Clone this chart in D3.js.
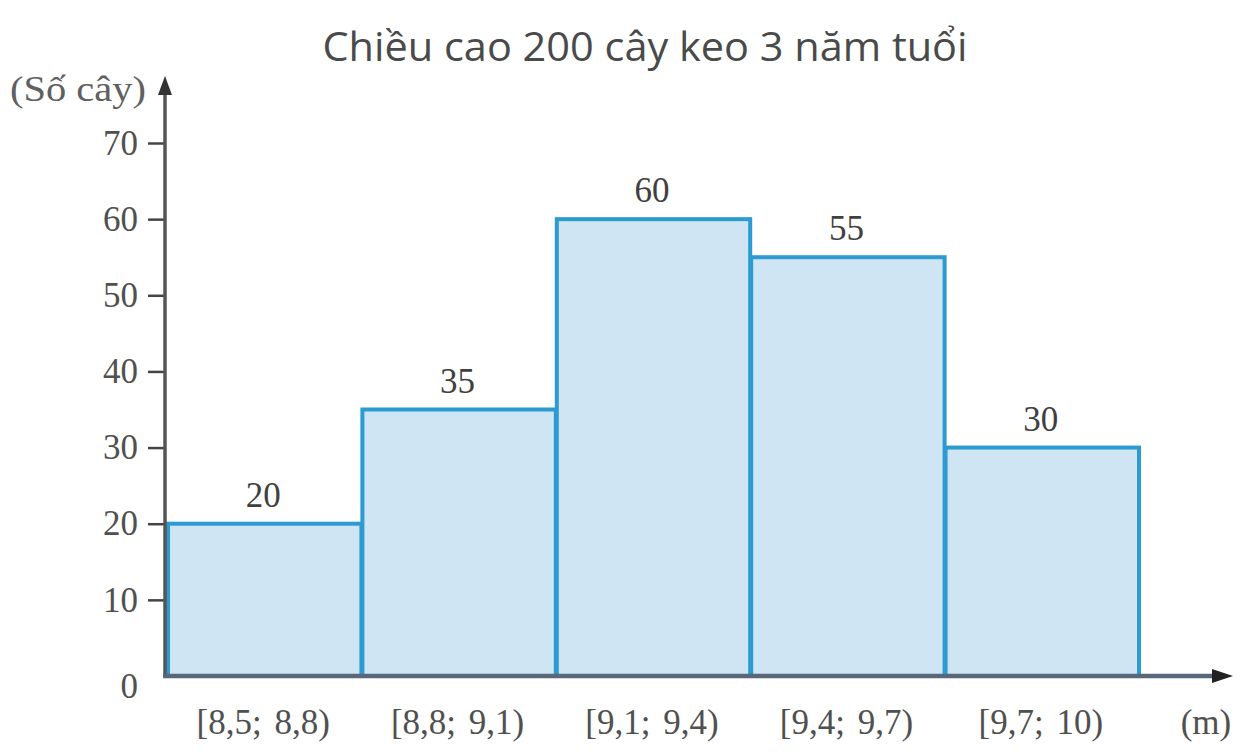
<!DOCTYPE html>
<html><head><meta charset="utf-8">
<script src="https://cdn.jsdelivr.net/npm/d3@7"></script>
<style>body{margin:0;background:#fff}</style>
</head><body><svg id="c" width="1251" height="752"></svg>
<script>
const categories = ["[8,5; 8,8)", "[8,8; 9,1)", "[9,1; 9,4)", "[9,4; 9,7)", "[9,7; 10)"];
const values = [20, 35, 60, 55, 30];
const yTicks = [0, 10, 20, 30, 40, 50, 60, 70];
const title = "Chiều cao 200 cây keo 3 năm tuổi";
const yLabel = "(Số cây)";
const xUnit = "(m)";

const svg = d3.select("#c");
const x0 = 165, y0 = 676;
const x = d3.scaleBand().domain(categories).range([x0 + 1, 1138]).padding(0);
const y = d3.scaleLinear().domain([0, 70]).range([y0, 143]);
const serif = "'Liberation Serif','DejaVu Serif',serif";
const fs = 35;

svg.append("text").attr("x", 645).attr("y", 61).attr("text-anchor", "middle")
  .attr("font-family", "'Open Sans',sans-serif").attr("font-size", 40)
  .attr("textLength", 645).attr("lengthAdjust", "spacingAndGlyphs")
  .attr("fill", "#4a4a4a").text(title);

// bars
svg.append("g").selectAll("rect").data(values).join("rect")
  .attr("x", (d, i) => x(categories[i]) + 2)
  .attr("y", d => y(d))
  .attr("width", x.bandwidth() - 1)
  .attr("height", d => y0 - y(d))
  .attr("fill", "#d0e5f3").attr("stroke", "#2b9bd2").attr("stroke-width", 4);

// value labels
svg.append("g").selectAll("text").data(values).join("text")
  .attr("x", (d, i) => x(categories[i]) + x.bandwidth() / 2)
  .attr("y", d => y(d) - 17)
  .attr("text-anchor", "middle").attr("font-family", serif).attr("font-size", fs)
  .attr("fill", "#404040").text(d => d);

// y axis
const yAxis = d3.axisLeft(y).tickValues(yTicks).tickSize(17).tickPadding(10);
const gy = svg.append("g").attr("transform", `translate(${x0},0)`).call(yAxis);
gy.select(".domain").remove();
gy.selectAll(".tick line").attr("stroke", "#444").attr("stroke-width", 2.5);
gy.selectAll(".tick text").attr("font-family", serif).attr("font-size", fs).attr("fill", "#505050");
gy.selectAll(".tick").filter(d => d === 0).select("line").remove();
gy.selectAll(".tick").filter(d => d === 0).select("text").attr("dy", "0.6em").attr("x", -27);

svg.append("line").attr("x1", x0).attr("x2", x0).attr("y1", y0 + 2).attr("y2", 92)
  .attr("stroke", "#555").attr("stroke-width", 3.5);
svg.append("path").attr("d", `M${x0},76 L${x0 - 7},95 L${x0 + 7},95 Z`).attr("fill", "#333");

// x axis
svg.append("line").attr("x1", x0 - 2).attr("x2", 1215).attr("y1", y0).attr("y2", y0)
  .attr("stroke", "#58687a").attr("stroke-width", 4.5);
svg.append("path").attr("d", `M1233,${y0} L1212,${y0 - 7} L1212,${y0 + 7} Z`).attr("fill", "#222");

const xAxis = d3.axisBottom(x).tickSize(0).tickPadding(0);
const gx = svg.append("g").attr("transform", `translate(0,${y0})`).call(xAxis);
gx.select(".domain").remove();
gx.selectAll(".tick text").attr("y", 58).attr("dy", 0).attr("font-family", serif).attr("font-size", fs)
  .attr("fill", "#505050").attr("word-spacing", 4);

svg.append("text").attr("x", 1206).attr("y", 734).attr("text-anchor", "middle")
  .attr("font-family", serif).attr("font-size", fs).attr("fill", "#505050").text(xUnit);
svg.append("text").attr("x", 78).attr("y", 101).attr("text-anchor", "middle")
  .attr("font-family", serif).attr("font-size", fs).attr("fill", "#606060")
  .attr("textLength", 136).attr("lengthAdjust", "spacingAndGlyphs").text(yLabel);
</script></body></html>
